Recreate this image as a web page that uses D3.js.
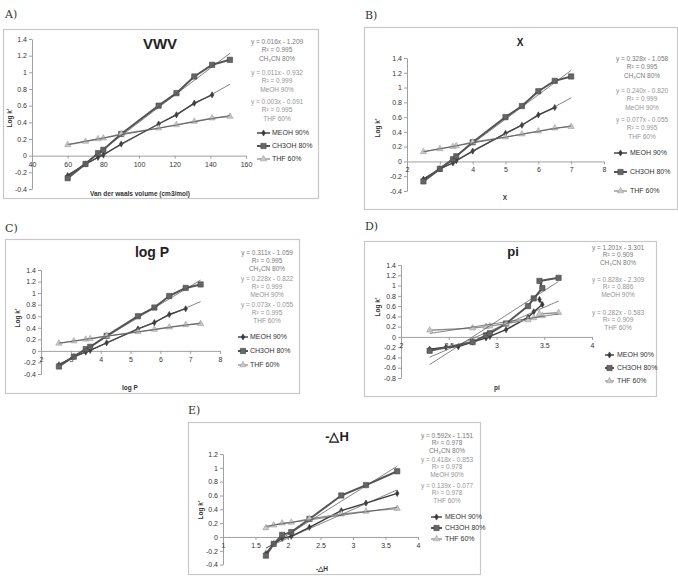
<!DOCTYPE html>
<html>
<head>
<meta charset="utf-8">
<script src="https://cdn.jsdelivr.net/npm/d3@7"></script>
<style>
  body { margin: 0; background: #fff; }
  svg { display: block; font-family: "Liberation Sans", Arial, sans-serif; }
  .tick text { fill: #333; font-size: 7px; }
</style>
</head>
<body>
<div id="main"></div>
<script>
// log k' of the compounds in each mobile phase
var meohK = [-0.24, -0.10, -0.02, 0.01, 0.14, 0.38, 0.49, 0.63, 0.73];
var ch3ohK = [-0.27, -0.10, 0.03, 0.07, 0.26, 0.60, 0.75, 0.95, 1.09, 1.15];
var thfK = [0.13, 0.17, 0.20, 0.21, 0.26, 0.33, 0.37, 0.41, 0.45, 0.47];

// descriptors
var vwv = [60, 70, 77, 80, 90, 111, 121, 131, 141, 151];
var xDesc = [2.5, 3, 3.4, 3.5, 4, 5, 5.5, 6, 6.5, 7];
var logP = [2.6, 3.1, 3.5, 3.65, 4.2, 5.25, 5.8, 6.3, 6.85, 7.35];
var piDesc = [2.3, 2.75, 2.89, 2.93, 3.1, 3.33, 3.39, 3.48, 3.45, 3.65];
var piMeohX = [2.3, 2.47, 2.6, 2.75, 2.89, 2.93, 3.1, 3.33, 3.39, 3.48, 3.45];
var piMeohY = [-0.24, -0.20, -0.19, -0.10, -0.02, 0.01, 0.14, 0.38, 0.49, 0.63, 0.73];
var dH = [1.66, 1.78, 1.91, 2.05, 2.33, 2.82, 3.2, 3.68];

var legendNames = ["MEOH 90%", "CH3OH 80%", "THF 60%"];

var eqA = [["y = 0.016x - 1.209", "R\u00b2 = 0.995", "CH\u2083CN  80%"], ["y = 0.011x - 0.932", "R\u00b2 = 0.999", "MeOH 90%"], ["y = 0.003x - 0.091", "R\u00b2 = 0.995", "THF 60%"]];
var eqB = [["y = 0.328x - 1.058", "R\u00b2 = 0.995", "CH\u2083CN 80%"], ["y = 0.240x - 0.820", "R\u00b2 = 0.999", "MeOH 90%"], ["y = 0.077x - 0.055", "R\u00b2 = 0.995", "THF 60%"]];
var eqC = [["y = 0.311x - 1.059", "R\u00b2 = 0.995", "CH\u2083CN 80%"], ["y = 0.228x - 0.822", "R\u00b2 = 0.999", "MeOH 90%"], ["y = 0.073x - 0.055", "R\u00b2 = 0.995", "THF 60%"]];
var eqD = [["y = 1.201x - 3.301", "R\u00b2 = 0.909", "CH\u2083CN 80%"], ["y = 0.828x - 2.309", "R\u00b2 = 0.886", "MeOH 90%"], ["y = 0.282x - 0.583", "R\u00b2 = 0.909", "THF 60%"]];
var eqE = [["y = 0.592x - 1.151", "R\u00b2 = 0.978", "CH\u2083CN 80%"], ["y = 0.418x - 0.853", "R\u00b2 = 0.978", "MeOH 90%"], ["y = 0.139x - 0.077", "R\u00b2 = 0.978", "THF 60%"]];

var ticksA = d3.range(40, 161, 20), ticksBC = d3.range(2, 9, 1),
    ticksD = [2, 2.5, 3, 3.5, 4], ticksE = [1, 1.5, 2, 2.5, 3, 3.5, 4];

function pairs(xs, ys) { return ys.map(function(y, i) { return [xs[i], y]; }); }

var panels = [
  { label: "A)", lx: 5, ly: 18, box: [3, 29, 318, 198], title: "VWV", tx: 160, ty: 45, tsize: 15,
    xd: [40, 160], xr: [32, 246], yd: [-0.4, 1.4], yr: [189, 39], xt: ticksA,
    xlab: "Van der waals volume (cm3/mol)", xlx: 140, xly: 194, ylx: 10, yly: 118,
    eq: eqA, ex: 277, ey: [42, 73, 102], eg: 8.6,
    leg: [257, 270, 272, [133, 146, 159]],
    series: [pairs(vwv, meohK), pairs(vwv, ch3ohK), pairs(vwv, thfK)] },
  { label: "B)", lx: 365, ly: 19, box: [364, 27, 677, 209], title: "X", tx: 520, ty: 43, tsize: 10,
    xd: [2, 8], xr: [407, 604], yd: [-0.4, 1.4], yr: [191, 58], xt: ticksBC,
    xlab: "X", xlx: 505, xly: 198, ylx: 378, yly: 128,
    eq: eqB, ex: 642, ey: [59, 91, 120], eg: 8.5,
    leg: [614, 627, 630, [153, 172, 191]],
    series: [pairs(xDesc, meohK), pairs(xDesc, ch3ohK), pairs(xDesc, thfK)] },
  { label: "C)", lx: 5, ly: 232, box: [5, 239, 299, 393], title: "log P", tx: 152, ty: 253, tsize: 14,
    xd: [2, 8], xr: [41, 220], yd: [-0.4, 1.4], yr: [374, 270], xt: ticksBC,
    xlab: "log P", xlx: 130, xly: 388, ylx: 18, yly: 318,
    eq: eqC, ex: 267, ey: [253, 279, 305], eg: 8,
    leg: [238, 248, 250, [337, 351, 365]],
    series: [pairs(logP, meohK), pairs(logP, ch3ohK), pairs(logP, thfK)] },
  { label: "D)", lx: 365, ly: 230, box: [364, 241, 656, 396], title: "pi", tx: 513, ty: 253, tsize: 13,
    xd: [2, 4], xr: [401, 592], yd: [-0.8, 1.4], yr: [378, 265], xt: ticksD,
    xlab: "pi", xlx: 497, xly: 388, ylx: 378, yly: 307,
    eq: eqD, ex: 618, ey: [248, 280, 313], eg: 7.7,
    leg: [605, 614, 617, [355, 368, 381]],
    series: [pairs(piMeohX, piMeohY), pairs(piDesc, ch3ohK), pairs(piDesc, thfK)] },
  { label: "E)", lx: 188, ly: 414, box: [188, 422, 480, 574], title: "-\u25b3H", tx: 337, ty: 438, tsize: 13,
    xd: [1, 4], xr: [223, 418], yd: [-0.4, 1.2], yr: [564.6, 454], xt: ticksE,
    xlab: "-\u25b3H", xlx: 322, xly: 569, ylx: 201, yly: 510,
    eq: eqE, ex: 447, ey: [436, 460, 486], eg: 7.7,
    leg: [431, 442, 445, [517, 528, 539]],
    series: [pairs(dH, meohK.slice(0, 8)), pairs(dH, ch3ohK.slice(0, 8)), pairs(dH, thfK.slice(0, 8))] }
];

var styles = [
  { line: "#383838", width: 1.4, sym: d3.symbolDiamond, size: 11, fill: "#3a3a3a", stroke: "#3a3a3a" },
  { line: "#555555", width: 2, sym: d3.symbolSquare, size: 28, fill: "#666666", stroke: "#444444" },
  { line: "#8e8e8e", width: 1.3, sym: d3.symbolTriangle, size: 17, fill: "#c8c8c8", stroke: "#a0a0a0" }
];

var svg = d3.select("#main").append("svg")
    .attr("width", 678)
    .attr("height", 582);

function fit(pts) {
  var mx = d3.mean(pts, function(p) { return p[0]; }),
      my = d3.mean(pts, function(p) { return p[1]; });
  var sxy = d3.sum(pts, function(p) { return (p[0] - mx) * (p[1] - my); }),
      sxx = d3.sum(pts, function(p) { return (p[0] - mx) * (p[0] - mx); });
  var b = sxy / sxx;
  return { b: b, a: my - b * mx };
}

var fmt = function(d) { return String(+d.toFixed(1)); };

panels.forEach(function(p) {
  var g = svg.append("g");

  g.append("text").attr("x", p.lx).attr("y", p.ly)
    .style("font-family", "'DejaVu Serif', 'Liberation Serif', serif")
    .style("font-size", "11px").attr("fill", "#333").text(p.label);

  g.append("rect")
    .attr("x", p.box[0] + 0.5).attr("y", p.box[1] + 0.5)
    .attr("width", p.box[2] - p.box[0]).attr("height", p.box[3] - p.box[1])
    .attr("fill", "#fff").attr("stroke", "#c8c8c8").attr("stroke-width", 1.2);

  var x = d3.scaleLinear().domain(p.xd).range(p.xr);
  var y = d3.scaleLinear().domain(p.yd).range(p.yr);
  var yt = d3.range(Math.round(p.yd[0] * 10), Math.round(p.yd[1] * 10) + 1, 2).map(function(v) { return v / 10; });

  var ya = g.append("g").attr("transform", "translate(" + p.xr[0] + ",0)")
    .call(d3.axisLeft(y).tickValues(yt).tickFormat(fmt).tickSize(3).tickSizeOuter(0));
  var xa = g.append("g").attr("transform", "translate(0," + y(0) + ")")
    .call(d3.axisBottom(x).tickValues(p.xt).tickFormat(function(d) { return String(d); }).tickSize(3).tickSizeOuter(0));
  [ya, xa].forEach(function(a) {
    a.select(".domain").attr("stroke", "#a0a0a0");
    a.selectAll(".tick line").attr("stroke", "#a0a0a0");
  });
  ya.selectAll(".tick text").attr("x", -5);
  xa.selectAll(".tick text").attr("y", 6);

  g.append("text").attr("x", p.tx).attr("y", p.ty).attr("text-anchor", "middle")
    .attr("dominant-baseline", "middle").style("font-weight", "bold")
    .style("font-size", p.tsize + "px").attr("fill", "#222").text(p.title);

  g.append("text").attr("x", p.xlx).attr("y", p.xly).attr("text-anchor", "middle")
    .attr("dominant-baseline", "middle").style("font-weight", "bold")
    .style("font-size", "6.5px").attr("fill", "#333").text(p.xlab);

  g.append("text").attr("transform", "translate(" + p.ylx + "," + p.yly + ")rotate(-90)")
    .attr("text-anchor", "middle").attr("dominant-baseline", "middle")
    .style("font-weight", "bold").style("font-size", "6.5px").attr("fill", "#333").text("Log k'");

  var line = d3.line().x(function(d) { return x(d[0]); }).y(function(d) { return y(d[1]); });

  // data series
  p.series.forEach(function(s, i) {
    var st = styles[i];
    g.append("path").datum(s).attr("d", line).attr("fill", "none")
      .attr("stroke", st.line).attr("stroke-width", st.width).attr("stroke-linejoin", "round");
    g.selectAll(null).data(s).enter().append("path")
      .attr("transform", function(d) { return "translate(" + x(d[0]) + "," + y(d[1]) + ")"; })
      .attr("d", d3.symbol().type(st.sym).size(st.size))
      .attr("fill", st.fill).attr("stroke", st.stroke).attr("stroke-width", 0.6);
  });

  // linear trendlines
  var all = d3.merge(p.series);
  var ext = d3.extent(all, function(d) { return d[0]; });
  p.series.forEach(function(s) {
    var f = fit(s);
    g.append("line")
      .attr("x1", x(ext[0])).attr("y1", y(f.a + f.b * ext[0]))
      .attr("x2", x(ext[1])).attr("y2", y(f.a + f.b * ext[1]))
      .attr("stroke", "#505050").attr("stroke-width", 0.7);
  });

  // equations
  p.eq.forEach(function(block, bi) {
    block.forEach(function(t, li) {
      g.append("text").attr("x", p.ex).attr("y", p.ey[bi] + li * p.eg)
        .attr("text-anchor", "middle").attr("dominant-baseline", "middle")
        .style("font-size", "6.5px").attr("fill", bi === 0 ? "#7a7a7a" : "#959595").text(t);
    });
  });

  // legend
  legendNames.forEach(function(n, i) {
    var st = styles[i], ly = p.leg[3][i];
    g.append("line").attr("x1", p.leg[0]).attr("x2", p.leg[1]).attr("y1", ly).attr("y2", ly)
      .attr("stroke", st.line).attr("stroke-width", st.width);
    g.append("path").attr("transform", "translate(" + ((p.leg[0] + p.leg[1]) / 2) + "," + ly + ")")
      .attr("d", d3.symbol().type(st.sym).size(st.size))
      .attr("fill", st.fill).attr("stroke", st.stroke).attr("stroke-width", 0.6);
    g.append("text").attr("x", p.leg[2]).attr("y", ly).attr("dominant-baseline", "middle")
      .style("font-size", "7px").attr("fill", "#333").text(n);
  });
});
</script>
</body>
</html>
